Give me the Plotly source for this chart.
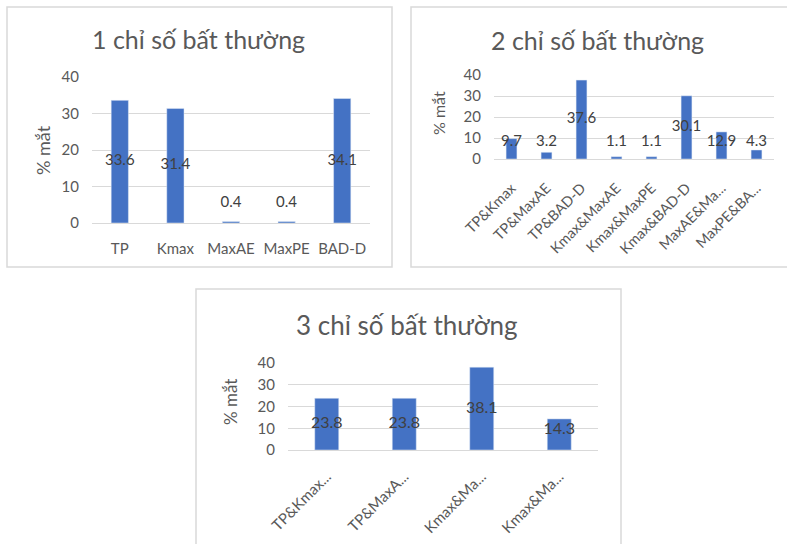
import plotly.graph_objects as go

# ---- data ----
cats1 = ["TP", "Kmax", "MaxAE", "MaxPE", "BAD-D"]
vals1 = [33.6, 31.4, 0.4, 0.4, 34.1]

cats2 = ["TP&Kmax", "TP&MaxAE", "TP&BAD-D", "Kmax&MaxAE", "Kmax&MaxPE",
         "Kmax&BAD-D", "MaxAE&Ma...", "MaxPE&BA..."]
vals2 = [9.7, 3.2, 37.6, 1.1, 1.1, 30.1, 12.9, 4.3]

cats3 = ["TP&Kmax...", "TP&MaxA...", "Kmax&Ma...", "Kmax&Ma..."]
vals3 = [23.8, 23.8, 38.1, 14.3]

titles = ["1 chỉ số bất thường", "2 chỉ số bất thường", "3 chỉ số bất thường"]
y_title = "% mắt"

# ---- style ----
W, H = 787, 544
FONT = "Lato"
BLUE = "#4472C4"
GRID = "#D9D9D9"
TXT = "#595959"
LBL = "#404040"


def px(x):
    return x / W


def py(y):
    return 1 - y / H


panels = [
    dict(cats=cats1, vals=vals1, floor=5.5, xd=(92, 370), yd=(77, 223), angle=0,
         title=(198, 39, 25), ytitle=(43, 150, 18), box=(7, 7, 392, 267),
         tickfs=15, ytickfs=15, lblfs=15, xstand=12),
    dict(cats=cats2, vals=vals2, floor=8, xd=(494, 774), yd=(75, 159), angle=-45,
         title=(597, 40, 25), ytitle=(438, 113, 16), box=(411, 7, 800, 267),
         tickfs=14.5, ytickfs=15, lblfs=15, xstand=14),
    dict(cats=cats3, vals=vals3, floor=9, xd=(288, 598), yd=(363, 450), angle=-45,
         title=(407, 325, 26), ytitle=(230, 402, 17), box=(196, 289, 621, 600),
         tickfs=15, ytickfs=15, lblfs=16, xstand=11),
]

fig = go.Figure()
annotations = []
shapes = []
layout = {}

for i, p in enumerate(panels):
    sfx = "" if i == 0 else str(i + 1)
    xa, ya = "x" + sfx, "y" + sfx
    n = len(p["cats"])
    xs = list(range(n))
    fig.add_trace(go.Bar(x=xs, y=p["vals"], marker_color=BLUE, width=0.31,
                         xaxis=xa, yaxis=ya, hoverinfo="skip"))
    fig.add_trace(go.Scatter(x=xs, y=[max(v / 2, p["floor"]) for v in p["vals"]],
                             text=[str(v) for v in p["vals"]], mode="text",
                             textfont=dict(family=FONT, size=p["lblfs"], color=LBL),
                             xaxis=xa, yaxis=ya, hoverinfo="skip"))
    layout["xaxis" + sfx] = dict(
        domain=[px(p["xd"][0]), px(p["xd"][1])], anchor=ya, automargin=False,
        range=[-0.5, n - 0.5], tickvals=xs, ticktext=p["cats"],
        tickangle=p["angle"], showgrid=False, zeroline=False,
        showline=True, linecolor=GRID, linewidth=1, ticks="",
        ticklabelstandoff=p["xstand"],
        tickfont=dict(family=FONT, size=p["tickfs"], color=TXT), fixedrange=True)
    layout["yaxis" + sfx] = dict(
        domain=[py(p["yd"][1]), py(p["yd"][0])], anchor=xa, automargin=False,
        range=[0, 40], dtick=10, showgrid=True, gridcolor=GRID, gridwidth=1,
        zeroline=False, showline=False, ticks="", ticklabelstandoff=12,
        tickfont=dict(family=FONT, size=p["ytickfs"], color=TXT), fixedrange=True)
    tx, ty, tfs = p["title"]
    annotations.append(dict(text=titles[i], x=px(tx), y=py(ty), xref="paper", yref="paper",
                            showarrow=False, xanchor="center", yanchor="middle",
                            font=dict(family=FONT, size=tfs, color=TXT)))
    ax, ay, afs = p["ytitle"]
    annotations.append(dict(text=y_title, x=px(ax), y=py(ay), xref="paper", yref="paper",
                            showarrow=False, xanchor="center", yanchor="middle", textangle=-90,
                            font=dict(family=FONT, size=afs, color=TXT)))
    x0, y0, x1, y1 = p["box"]
    shapes.append(dict(type="rect", xref="paper", yref="paper",
                       x0=px(x0), x1=px(x1), y0=py(y1), y1=py(y0),
                       line=dict(color=GRID, width=1.5), layer="below"))

fig.update_layout(width=W, height=H, margin=dict(l=0, r=0, t=0, b=0, autoexpand=False),
                  paper_bgcolor="white", plot_bgcolor="white", showlegend=False,
                  bargap=0.69, annotations=annotations, shapes=shapes, **layout)

fig.write_html("out.html", config={"displayModeBar": False},
               post_script="document.body.style.margin='0';document.body.style.overflow='hidden';")
